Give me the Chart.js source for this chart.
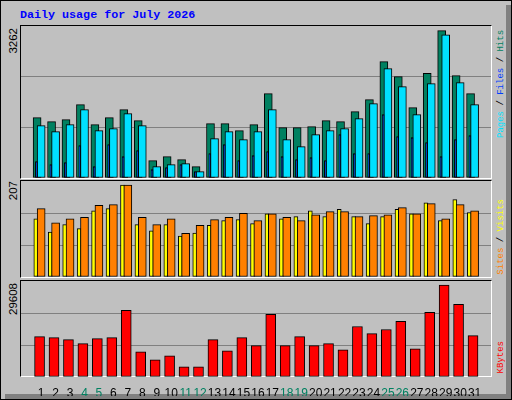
<!DOCTYPE html>
<html><head><meta charset="utf-8">
<script src="https://cdn.jsdelivr.net/npm/chart.js@4"></script>
<style>
body{margin:0;background:#fff}
#frame{position:absolute;left:0;top:0;width:510px;height:398px;border:1px solid #000;background:#c0c0c0;overflow:hidden}
#shadowR{position:absolute;left:505px;top:4px;width:6px;height:395px;background:#808080}
#shadowB{position:absolute;left:4px;top:393px;width:507px;height:6px;background:#808080}
.panel{position:absolute;left:19px;width:470px;border-left:1px solid #000;border-top:1px solid #000;border-right:1px solid #fff;border-bottom:1px solid #fff}
.cv{position:absolute}
.t{position:absolute;font-family:"Liberation Mono","DejaVu Sans Mono",monospace;white-space:nowrap}
.rot{transform:rotate(-90deg);transform-origin:center center}
</style></head><body>
<div id="frame">
<div id="shadowR"></div><div id="shadowB"></div>
<div class="t" style="left:19px;top:7px;color:#0000ff;font-weight:bold;font-size:11.7px">Daily usage for July 2026</div>
<div class="panel" style="top:24px;height:152px"></div>
<div class="panel" style="top:179px;height:96px"></div>
<div class="panel" style="top:279px;height:95px"></div>
<div class="cv" style="left:20px;top:25px;width:470px;height:152px"><canvas id="c1"></canvas></div>
<div class="cv" style="left:20px;top:180px;width:470px;height:96px"><canvas id="c2"></canvas></div>
<div class="cv" style="left:20px;top:280px;width:470px;height:115px"><canvas id="c3"></canvas></div>
<div id="lab1" class="t rot" style="left:-8px;top:41px;width:40px;text-align:right;font-size:11.5px;font-family:'Liberation Sans',sans-serif"></div>
<div id="lab2" class="t rot" style="left:-8px;top:194px;width:40px;text-align:right;font-size:11.5px;font-family:'Liberation Sans',sans-serif"></div>
<div id="lab3" class="t rot" style="left:-8px;top:296px;width:40px;text-align:right;font-size:11.5px;font-family:'Liberation Sans',sans-serif"></div>
<div class="t rot" style="left:446px;top:76px;width:108px;height:14px;text-align:right;font-size:9px;line-height:14px"><span style="color:#00e0ff">Pages</span> / <span style="color:#0040ff">Files</span> / <span style="color:#008060">Hits</span></div>
<div class="t rot" style="left:446px;top:245px;width:108px;height:14px;text-align:right;font-size:9px;line-height:14px"><span style="color:#ff8000">Sites</span> / <span style="color:#ffff00">Visits</span></div>
<div class="t rot" style="left:446px;top:387px;width:108px;height:14px;text-align:right;font-size:9px;line-height:14px;color:#ff0000">KBytes</div>
</div>
<script>
const days=[1,2,3,4,5,6,7,8,9,10,11,12,13,14,15,16,17,18,19,20,21,22,23,24,25,26,27,28,29,30,31];
const weekend=[4,5,11,12,18,19,25,26];
const hits=[1336,1247,1292,1624,1181,1336,1513,1269,384,472,406,251,1203,1203,1048,1181,1867,1114,1114,1137,1269,1247,1469,1734,2576,2244,1557,2317,3262,2266,1867];
const files=[1159,1026,1181,1513,1048,1092,1424,1159,251,295,317,140,871,1026,849,1026,1513,849,694,959,1048,1092,1314,1646,2421,2022,1402,2089,3173,2111,1624];
const pages=[362,295,339,716,251,738,472,605,185,229,295,140,539,738,384,494,583,472,406,450,384,959,539,539,1402,915,893,782,472,849,937];
const sites=[131,101,118,109,149,154,207,118,104,118,92,99,116,127,129,120,142,131,136,149,136,152,136,120,136,152,142,167,127,174,145];
const visits=[154,122,131,134,161,163,207,134,118,131,98,116,129,134,143,127,142,134,127,140,147,147,136,138,140,156,142,165,131,163,149];
const kbytes=[13014,12689,12038,10737,12364,12689,21473,8134,5531,6832,3254,3254,12038,8459,12689,10086,20172,10086,13014,10086,10737,8784,16268,13990,15291,17894,9110,20822,29608,23425,13339];

const maxTop=Math.max(...hits), maxMid=Math.max(...visits,...sites), maxBot=Math.max(...kbytes);
document.getElementById('lab1').textContent=maxTop;
document.getElementById('lab2').textContent=maxMid;
document.getElementById('lab3').textContent=maxBot;

function ds(vals,off,color,w){
  return {data:vals.map((v,i)=>({x:days[i]+off,y:v})),backgroundColor:color,borderColor:'#000',borderWidth:1,barThickness:w,grouped:false,borderSkipped:false};
}
const xmin=0.13,xmax=31.61;
function yScale(max){
  return {min:0,max:max,border:{display:false},ticks:{display:false,stepSize:max/3},
    grid:{drawTicks:false,color:c=>(c.index===1||c.index===2)?'#808080':'rgba(0,0,0,0)',lineWidth:1}};
}
function mk(id,datasets,ymax,showX){
  const x={type:'linear',min:xmin,max:xmax,display:showX,border:{display:false},grid:{display:false},
        afterBuildTicks:a=>{a.ticks=days.map(d=>({value:d}));},
        ticks:{autoSkip:false,maxRotation:0,padding:1,font:{family:'Liberation Sans',size:12},
          color:c=>weekend.includes(c.tick.value)?'#008060':'#000',callback:v=>String(v)}};
  if(showX) x.afterFit=a=>{a.height=19;};
  new Chart(document.getElementById(id),{type:'bar',data:{datasets},
    options:{responsive:true,maintainAspectRatio:false,animation:false,
      layout:{padding:0},
      plugins:{legend:{display:false},tooltip:{enabled:false}},
      scales:{x:x,y:yScale(ymax)}}});
}
// first dataset is drawn on top
mk('c1',[ds(pages,-0.33,'#0040ff',2),ds(files,0.0,'#00e0ff',8),ds(hits,-0.28,'#008060',8)],maxTop*152/147.3,false);
mk('c2',[ds(visits,0.0,'#ff8000',8),ds(sites,-0.37,'#ffff00',4)],maxMid*96/92,false);
mk('c3',[ds(kbytes,-0.11,'#ff0000',10)],maxBot*95/91,true);
</script>
</body></html>
